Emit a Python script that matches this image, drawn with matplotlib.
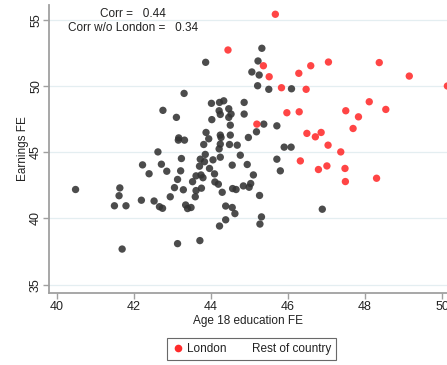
import matplotlib
matplotlib.use("Agg")
import matplotlib.pyplot as plt
from matplotlib.lines import Line2D

plt.rcParams['font.family'] = ['Liberation Sans', 'DejaVu Sans']

# London boroughs: (education FE, earnings FE)
london_x = [45.67, 44.44, 45.36, 45.51, 45.83, 46.28, 46.59, 47.05, 46.47, 48.37,
            49.15, 50.14, 45.97, 46.29, 47.50, 48.11, 48.54, 47.83, 45.19, 46.49,
            46.71, 46.86, 47.04, 47.37, 47.69, 46.32, 46.79, 47.01, 47.48, 47.49,
            48.30]
london_y = [55.43, 52.73, 51.54, 50.71, 49.88, 50.97, 51.54, 51.82, 49.76, 51.78,
            50.76, 50.01, 47.99, 48.06, 48.14, 48.82, 48.24, 47.68, 47.13, 46.43,
            46.17, 46.50, 45.54, 45.03, 46.80, 44.35, 43.70, 43.97, 43.78, 42.79,
            43.04]

# Rest of country
rest_x = [45.32, 45.22, 43.86, 45.06, 45.25, 45.21, 45.50, 46.09, 43.30, 42.75,
          44.01, 44.22, 44.33, 44.86, 44.21, 44.46, 44.24, 44.52, 44.86, 43.10,
          44.02, 44.46, 45.37, 45.71, 44.50, 43.87, 44.24, 44.26, 44.50, 44.97,
          45.18, 43.16, 43.15, 43.31, 43.94, 43.81, 44.24, 44.21, 44.48, 44.68,
          42.62, 43.85, 44.76, 43.23, 43.72, 43.83, 44.05, 44.24, 45.71, 42.22,
          42.71, 42.85, 42.39, 43.21, 43.70, 43.96, 44.55, 44.94, 45.90, 46.08,
          45.80, 44.09, 43.74, 43.61, 43.79, 45.10, 43.13, 43.52, 44.10, 44.19,
          40.48, 41.63, 41.61, 41.49, 41.79, 42.19, 42.52, 42.66, 42.74, 42.94,
          43.05, 43.28, 43.61, 43.59, 43.75, 44.29, 44.56, 44.65, 44.84, 44.99,
          45.03, 45.26, 43.34, 43.39, 43.48, 44.38, 44.55, 44.62, 44.38, 44.22,
          45.31, 45.27, 46.89, 43.71, 43.13, 41.69]
rest_y = [52.86, 51.90, 51.80, 51.07, 50.84, 50.03, 49.76, 49.80, 49.45, 48.17,
          48.70, 48.77, 48.89, 48.77, 48.14, 48.29, 47.86, 47.89, 47.89, 47.64,
          47.47, 47.64, 47.13, 47.00, 47.05, 46.50, 46.30, 46.12, 46.30, 46.12,
          46.55, 46.09, 45.92, 45.92, 46.02, 45.59, 45.62, 45.26, 45.59, 45.54,
          45.03, 44.84, 44.78, 44.53, 44.48, 44.29, 44.43, 44.63, 44.48, 44.05,
          44.10, 43.57, 43.38, 43.60, 43.95, 43.78, 44.03, 44.08, 45.39, 45.39,
          43.60, 43.37, 43.29, 43.22, 43.08, 43.29, 42.95, 42.78, 42.76, 42.59,
          42.19, 42.31, 41.72, 40.96, 40.96, 41.38, 41.32, 40.89, 40.77, 41.64,
          42.33, 42.17, 42.11, 41.64, 42.29, 41.98, 42.26, 42.19, 42.46, 42.36,
          42.64, 41.74, 41.02, 40.75, 40.83, 40.94, 40.83, 40.37, 39.90, 39.43,
          40.12, 39.58, 40.70, 38.33, 38.10, 37.69]

x_ticks = [40, 42, 44, 46, 48, 50]
y_ticks = [35, 40, 45, 50, 55]
corr_all = 0.44
corr_wo_london = 0.34

fig = plt.figure(figsize=(4.47, 3.65), dpi=100)
ax = fig.add_axes([49 / 447, 1 - 293 / 365, 1 - 49 / 447, 288 / 365])

red = '#ff2b2b'
dark = '#333333'
ax.scatter(rest_x, rest_y, s=28, color=dark, alpha=0.88, edgecolors='none', zorder=3)
ax.scatter(london_x, london_y, s=28, color=red, alpha=0.88, edgecolors='none', zorder=3)

ax.set_xlim(39.79, 50.13)
ax.set_ylim(34.37, 56.13)
ax.set_xticks(x_ticks)
ax.set_yticks(y_ticks)
ax.grid(axis='y', color='#e4eef1', linewidth=0.9, zorder=0)
ax.set_axisbelow(True)

for s in ['top', 'right']:
    ax.spines[s].set_visible(False)
for s in ['left', 'bottom']:
    ax.spines[s].set_color('#a0a0a0')
    ax.spines[s].set_linewidth(1.3)
ax.tick_params(axis='both', colors='#a0a0a0', length=4, width=1.0,
               labelcolor='#222222', labelsize=9, pad=1.5)
ax.tick_params(axis='y', pad=1.0)
for lab in ax.get_yticklabels():
    lab.set_rotation(90)
    lab.set_va('center')

ax.set_xlabel('Age 18 education FE', fontsize=8.5, color='#222222', labelpad=2)
ax.set_ylabel('Earnings FE', fontsize=8.5, color='#222222', labelpad=1)

ax.text(0.211, 0.969, 'Corr =   %.2f' % corr_all, transform=ax.transAxes,
        ha='center', va='center', fontsize=8.5, color='#222222')
ax.text(0.211, 0.921, 'Corr w/o London =   %.2f' % corr_wo_london, transform=ax.transAxes,
        ha='center', va='center', fontsize=8.5, color='#222222')

handles = [Line2D([], [], marker='o', linestyle='none', color=red, markersize=5.5,
                  markeredgewidth=0),
           Line2D([], [], marker='o', linestyle='none', color=dark, markersize=5.5,
                  markeredgewidth=0, alpha=0.0)]
leg = fig.legend(handles, ['London', 'Rest of country'], loc='center',
                 bbox_to_anchor=(251.5 / 447, 1 - 349 / 365), ncol=2,
                 frameon=True, fancybox=False, edgecolor='#444444',
                 fontsize=8.5, handletextpad=0.3, columnspacing=0.8,
                 handlelength=1.0, borderpad=0.45, labelcolor='#222222')
leg.get_frame().set_linewidth(0.8)

fig.savefig('out.png', dpi=100)
